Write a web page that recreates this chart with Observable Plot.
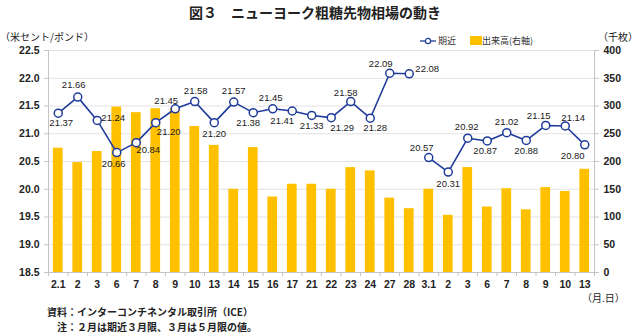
<!DOCTYPE html>
<html><head><meta charset="utf-8">
<script src="https://cdn.jsdelivr.net/npm/d3@7"></script>
<script src="https://cdn.jsdelivr.net/npm/@observablehq/plot@0.6"></script>
<style>
body{margin:0;background:#fff;}
#wrap{position:relative;width:640px;height:334px;font-family:"Liberation Sans","Noto Sans CJK JP",sans-serif;color:#222;}
.t{position:absolute;white-space:nowrap;font-family:"Noto Sans CJK JP","Liberation Sans",sans-serif;}
</style></head><body>
<div id="wrap"></div>
<script>
// ---- data ----
const dateLabels = ["2.1","2","3","6","7","8","9","10","13","14","15","16","17","21","22","23","24","27","28","3.1","2","3","6","7","8","9","10","13"];
const priceValues = [21.37,21.66,21.24,20.66,20.84,21.20,21.45,21.58,21.20,21.57,21.38,21.45,21.41,21.33,21.29,21.58,21.28,22.09,22.08,20.57,20.31,20.92,20.87,21.02,20.88,21.15,21.14,20.80];
const contractSeries = ["3月限","3月限","3月限","3月限","3月限","3月限","3月限","3月限","3月限","3月限","3月限","3月限","3月限","3月限","3月限","3月限","3月限","3月限","3月限","5月限","5月限","5月限","5月限","5月限","5月限","5月限","5月限","5月限"];
const volumeValues = [224,198,218,298,288,295,295,263,229,150,225,136,159,159,150,189,183,134,115,150,103,189,118,151,113,153,146,186];
const leftTicks = [18.5,19.0,19.5,20.0,20.5,21.0,21.5,22.0,22.5];
const rightTicks = [0,50,100,150,200,250,300,350,400];

// ---- label offsets (styling, px) ----
const labelOffsets = [[3,10],[-4,-12],[16,-2],[-3,11],[12,7],[13,9],[-9,-8],[1,-11],[0,11],[0,-11],[-5,10],[-2,-11],[-10,10],[0,11],[11,10],[-5,-9],[5,10],[-9,-9],[18,-5],[-7,-10],[0,12],[-1,-11],[-2,10],[0,-11],[0,11],[-7,-9],[8,-8],[-12,11]];

const yMin = 18.5, volScale = 100; // volume 0..400 drawn on the price axis 18.5..22.5
const rows = dateLabels.map((d,i)=>({i, label:d, price:priceValues[i], series:contractSeries[i], vol:volumeValues[i]}));

const navy = "#1f3b9b", gold = "#ffc000", gray = "#c4c4c4";

const labelMarks = rows.map((r,k) => Plot.text([r], {
  x:d=>d.i+0.5, y:"price", text:d=>d.price.toFixed(2), dx:labelOffsets[k][0], dy:labelOffsets[k][1], fontSize:9.5, fill:"#1a1a1a"
}));

const chart = Plot.plot({
  width:640, height:334,
  marginTop:50, marginBottom:62, marginLeft:48, marginRight:46,
  style:{fontFamily:'"Liberation Sans","Noto Sans CJK JP",sans-serif', fontSize:"10px", color:"#222", background:"transparent"},
  x:{type:"linear", domain:[0, dateLabels.length], axis:null},
  y:{domain:[18.5,22.5], axis:null},
  marks:[
    Plot.ruleY(leftTicks, {stroke:"#e2e2e2"}),
    Plot.rectY(rows, {x1:d=>d.i+0.25, x2:d=>d.i+0.75, y1:yMin, y2:d=>yMin + d.vol/volScale, fill:gold}),
    Plot.ruleY([18.5], {stroke:gray}),
    Plot.ruleX([0, dateLabels.length], {stroke:gray}),
    Plot.line(rows, {x:d=>d.i+0.5, y:"price", z:"series", stroke:navy, strokeWidth:1.6}),
    Plot.dot(rows, {x:d=>d.i+0.5, y:"price", r:4, fill:"white", stroke:navy, strokeWidth:1.5}),
    ...labelMarks,
    Plot.axisY({anchor:"left", label:null, ticks:leftTicks, tickFormat:d3.format(".1f"), tickSize:4, tickPadding:5, stroke:gray, fontSize:10.5, fontWeight:"bold", fill:"#222"}),
    Plot.axisY({anchor:"right", label:null, ticks:rightTicks.map(v=>yMin+v/volScale), tickFormat:d=>String(Math.round((d-yMin)*volScale)), tickSize:4, tickPadding:5, stroke:gray, fontSize:10.5, fontWeight:"bold", fill:"#222"}),
    Plot.axisX({label:null, ticks:d3.range(0, dateLabels.length+1), tickFormat:()=>"", tickSize:4, stroke:gray}),
    Plot.axisX({label:null, ticks:d3.range(dateLabels.length).map(i=>i+0.5), tickFormat:d=>dateLabels[Math.floor(d)], tickSize:0, tickPadding:8, fontSize:10.5, fontWeight:"bold", fill:"#222"})
  ]
});
chart.style.position = "absolute";
chart.style.left = "0px";
chart.style.top = "0px";
const wrap = document.getElementById("wrap");
wrap.appendChild(chart);

function addText(txt, css){
  const el = document.createElement("div");
  el.className = "t";
  el.textContent = txt;
  Object.assign(el.style, css);
  wrap.appendChild(el);
  return el;
}
addText("図３　ニューヨーク粗糖先物相場の動き", {left:"0", width:"640px", textAlign:"center", top:"2px", fontSize:"14px", fontWeight:"bold", paddingRight:"10px", boxSizing:"border-box"});
addText("（米セント/ポンド）", {left:"0px", top:"29px", fontSize:"10px"});
addText("（千枚）", {left:"598px", top:"29px", fontSize:"10px"});
addText("（月.日）", {left:"582px", top:"290px", fontSize:"10px"});
addText("資料：インターコンチネンタル取引所（ICE）", {left:"47px", top:"304px", fontSize:"10px", fontWeight:"bold"});
addText("注：２月は期近３月限、３月は５月限の値。", {left:"57px", top:"319px", fontSize:"10px", fontWeight:"bold"});

// legend
const leg = document.createElement("div");
leg.className = "t";
Object.assign(leg.style, {left:"420px", top:"34px", fontSize:"9px", display:"flex", alignItems:"center", color:"#333"});
leg.innerHTML = `<svg width="16" height="10"><line x1="0" y1="5" x2="16" y2="5" stroke="${navy}" stroke-width="1.3"/><circle cx="8" cy="5" r="2.6" fill="white" stroke="${navy}" stroke-width="1.2"/></svg><span style="margin-left:2px">期近</span><span style="display:inline-block;width:12px;height:9px;background:${gold};margin-left:14px"></span><span>出来高(右軸)</span>`;
wrap.appendChild(leg);
</script>
</body></html>
